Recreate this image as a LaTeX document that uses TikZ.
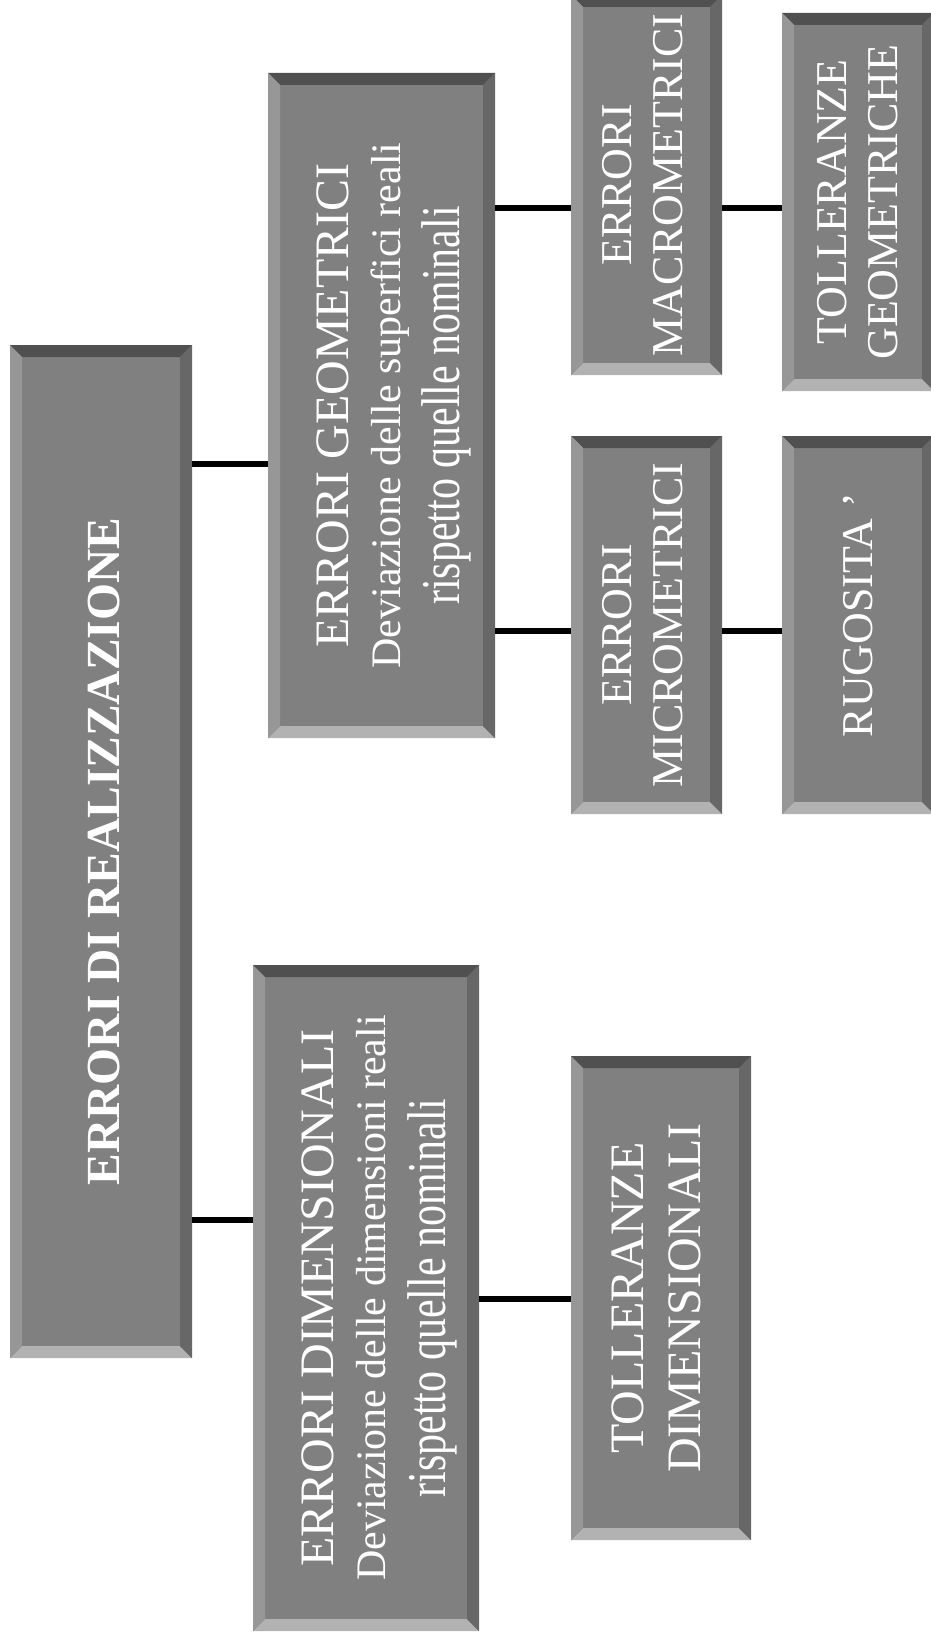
\documentclass[tikz,border=0pt]{standalone}
\usepackage{graphicx}
\usepackage{fontspec}
\setmainfont{Liberation Serif}
\usepackage{tikz,xcolor}

\definecolor{boxface}{HTML}{808080}
\definecolor{bevtop}{HTML}{505050}
\definecolor{bevleft}{HTML}{979797}
\definecolor{bevright}{HTML}{676767}
\definecolor{bevbottom}{HTML}{B2B2B2}
\newcommand{\bev}{12pt}
\newcommand{\vtext}[1]{\rotatebox{90}{\begin{tabular}{@{}c@{}}#1\end{tabular}}}

\begin{document}
\begin{tikzpicture}[x=1pt,y=-1pt]
  % Define box and connector style
  \tikzset{bevelbox/.style={rectangle, inner sep=0pt, fill=boxface, text=white,
    path picture={
      \fill[bevtop] (path picture bounding box.north west) -- (path picture bounding box.north east)
        -- ([xshift=-\bev,yshift=-\bev]path picture bounding box.north east)
        -- ([xshift=\bev,yshift=-\bev]path picture bounding box.north west) -- cycle;
      \fill[bevbottom] (path picture bounding box.south west) -- (path picture bounding box.south east)
        -- ([xshift=-\bev,yshift=\bev]path picture bounding box.south east)
        -- ([xshift=\bev,yshift=\bev]path picture bounding box.south west) -- cycle;
      \fill[bevleft] (path picture bounding box.north west) -- (path picture bounding box.south west)
        -- ([xshift=\bev,yshift=\bev]path picture bounding box.south west)
        -- ([xshift=\bev,yshift=-\bev]path picture bounding box.north west) -- cycle;
      \fill[bevright] (path picture bounding box.north east) -- (path picture bounding box.south east)
        -- ([xshift=-\bev,yshift=\bev]path picture bounding box.south east)
        -- ([xshift=-\bev,yshift=-\bev]path picture bounding box.north east) -- cycle;
    }}}
  \tikzset{link/.style={line width=6pt, black}}
  \useasboundingbox (0,0) rectangle (930,1643);

  % Root
  \node[bevelbox, minimum width=182pt, minimum height=1013pt] (main) at (101,851.5)
    {\fontsize{47.5}{52}\selectfont\bfseries\kern6pt\rotatebox{90}{ERRORI DI REALIZZAZIONE}};

  % Second level
  \node[bevelbox, minimum width=227pt, minimum height=665pt] (geo) at (381.5,405.5)
    {\fontsize{42}{52}\selectfont\kern24pt\vtext{{\fontsize{48}{52}\selectfont ERRORI GEOMETRICI}\\
      Deviazione delle superfici reali\\[6pt] \scalebox{1}[1.3]{rispetto quelle nominali}}};
  \node[bevelbox, minimum width=226pt, minimum height=666pt] (dim) at (366,1298)
    {\fontsize{42}{52}\selectfont\kern26pt\vtext{{\fontsize{48}{52}\selectfont ERRORI DIMENSIONALI}\\
      Deviazione delle dimensioni reali\\[6pt] \scalebox{1}[1.3]{rispetto quelle nominali}}};

  % Third level
  \node[bevelbox, minimum width=151pt, minimum height=380pt] (macro) at (646.5,185)
    {\fontsize{44}{51}\selectfont\vtext{ERRORI\\ MACROMETRICI}};
  \node[bevelbox, minimum width=151pt, minimum height=378pt] (micro) at (646.5,625)
    {\fontsize{44}{51}\selectfont\vtext{ERRORI\\ MICROMETRICI}};
  \node[bevelbox, minimum width=180pt, minimum height=484pt] (tolldim) at (661,1298)
    {\fontsize{48}{57}\selectfont\vtext{TOLLERANZE\\ DIMENSIONALI}};

  % Fourth level
  \node[bevelbox, minimum width=152pt, minimum height=378pt] (tollgeo) at (858,202)
    {\fontsize{44}{51}\selectfont\vtext{TOLLERANZE\\ GEOMETRICHE}\kern-8pt};
  \node[bevelbox, minimum width=152pt, minimum height=378pt] (rugo) at (858,625)
    {\fontsize{44}{51}\selectfont\rotatebox{90}{\kern20pt RUGOSITA ’}};

  % Connectors
  \coordinate (jgeo) at (0,464);
  \coordinate (jdim) at (0,1220);
  \coordinate (jmacro) at (0,208);
  \coordinate (jmicro) at (0,631);
  \coordinate (jtoll) at (0,1299);
  \draw[link] (main.east |- jgeo) -- (geo.west |- jgeo);
  \draw[link] (main.east |- jdim) -- (dim.west |- jdim);
  \draw[link] (geo.east |- jmacro) -- (macro.west |- jmacro);
  \draw[link] (macro.east |- jmacro) -- (tollgeo.west |- jmacro);
  \draw[link] (geo.east |- jmicro) -- (micro.west |- jmicro);
  \draw[link] (micro.east |- jmicro) -- (rugo.west |- jmicro);
  \draw[link] (dim.east |- jtoll) -- (tolldim.west |- jtoll);
\end{tikzpicture}
\end{document}
